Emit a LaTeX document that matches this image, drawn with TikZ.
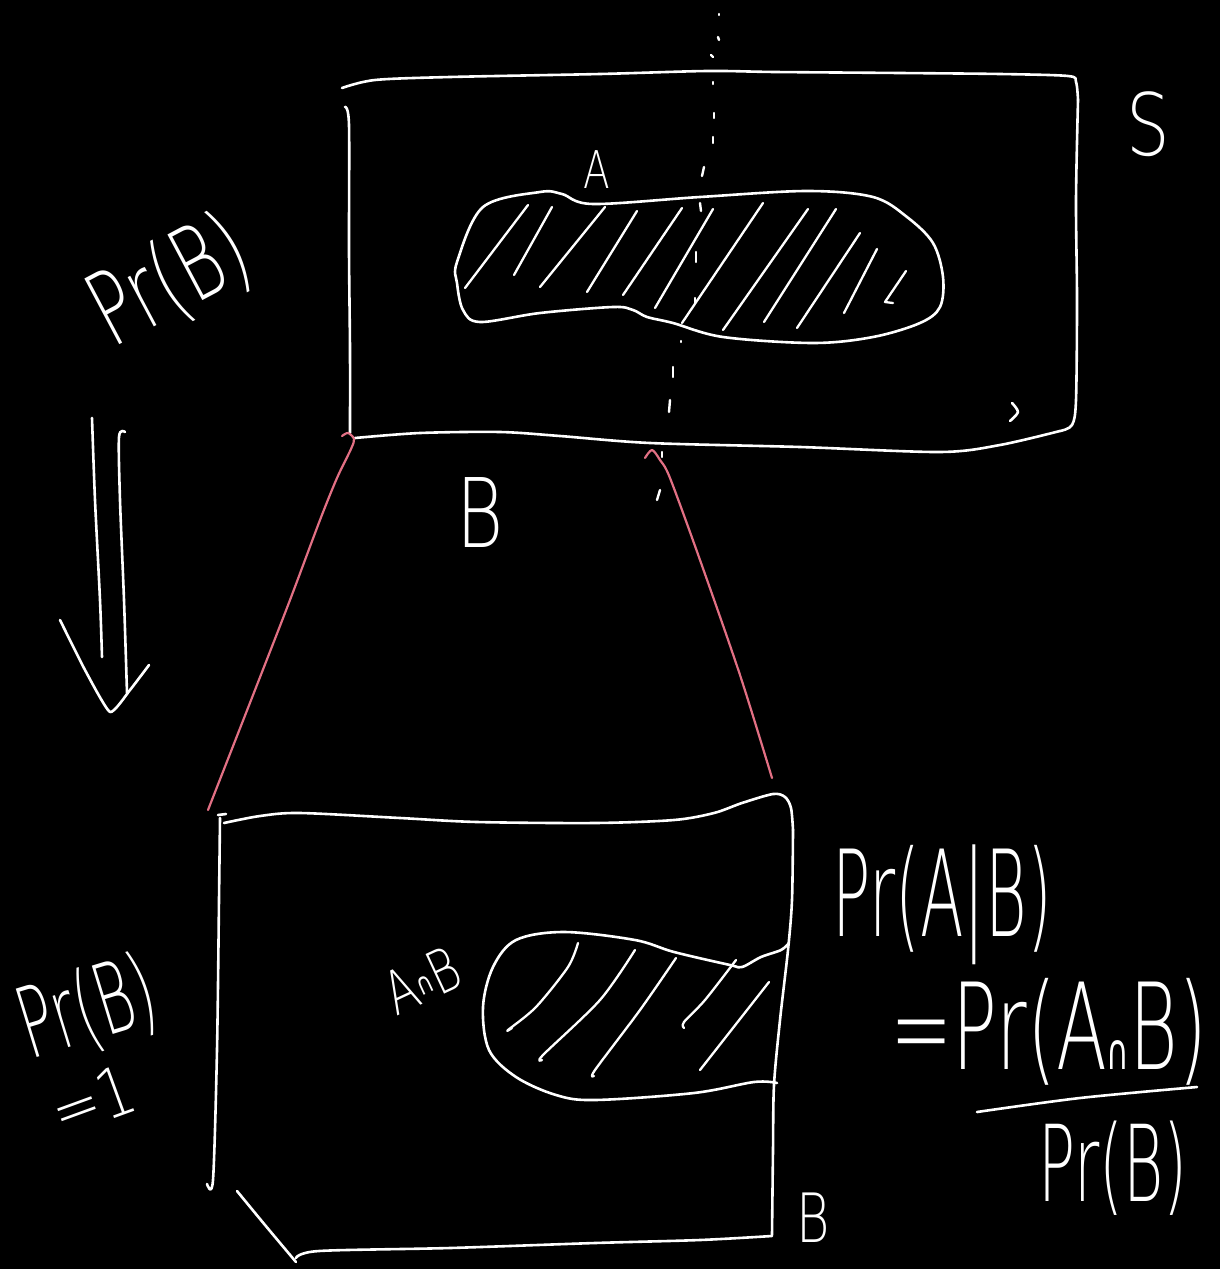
\documentclass[tikz,border=0pt]{standalone}
\usepackage{fontspec}
\usepackage{graphicx}
\IfFontExistsTF{DejaVu Sans ExtraLight}{\newfontfamily\hand{DejaVu Sans ExtraLight}}{\newfontfamily\hand{DejaVu Sans}}
\newfontfamily\handsym{DejaVu Sans}
\newcommand{\hwt}[3]{\scalebox{#1}[1]{\fontsize{#2}{#2}\selectfont #3}}
\definecolor{pinkline}{RGB}{226,112,132}
\begin{document}
\begin{tikzpicture}[x=1pt,y=-1pt,
  ink/.style={draw=white,line width=2.6pt,line cap=round,line join=round},
  pinkink/.style={draw=pinkline,line width=2.2pt,line cap=round,line join=round},
  dashmark/.style={draw=white,line width=2.4pt,line cap=round},
  hw/.style={text=white,inner sep=0pt,font=\hand}]
\fill[black] (0,0) rectangle (1220,1269);
\useasboundingbox (0,0) rectangle (1220,1269);

% ---------- top rectangle S ----------
\draw[ink] plot[smooth,tension=0.5] coordinates {(342,88) (375,80) (450,77) (600,74) (707,71) (775,72) (900,73) (1000,74) (1068,76) (1076,82) (1078,100)};
\draw[ink] plot[smooth,tension=0.5] coordinates {(1078,100) (1076,200) (1077,300) (1076,400) (1072,425) (1060,431)};
\draw[ink] plot[smooth,tension=0.5] coordinates {(1060,431) (1000,445) (940,452) (800,447) (650,443) (560,436) (500,432) (420,433) (355,438)};
\draw[ink] plot[smooth,tension=0.5] coordinates {(345,107) (349,125) (349,250) (350,350) (350,433)};
\draw[ink] plot[smooth,tension=0.5] coordinates {(1012,403) (1018,412) (1010,421)};

% dotted vertical line
\foreach \xa/\ya/\xb/\yb in {719/14/719/15, 718/37/719/40, 711/55/713/57, 713/82/713/84, 714/113/714/118, 713/137/713/143, 704/167/702/176, 700/203/701/211, 696/252/696/262, 695/298/695/303, 681/341/681/342, 673/367/673/377, 670/400/669/412, 662/452/662/457, 660/490/657/500}
  \draw[dashmark] (\xa,\ya) -- (\xb,\yb);

% blob A
\draw[ink] plot[smooth cycle,tension=0.55] coordinates {(457,262) (483,207) (540,192) (562,194) (593,204) (700,197) (807,191) (873,197) (907,217) (933,243) (943,277) (940,307) (920,323) (873,337) (813,343) (723,337) (673,323) (647,317) (633,310) (613,307) (540,313) (480,322) (463,310) (457,283)};
% hatching in A
\foreach \xa/\ya/\xb/\yb in {528/205/465/288, 552/207/514/275, 605/207/540/287, 637/211/587/292, 682/208/623/295, 713/209/655/308, 763/203/682/323, 808/209/723/330, 836/209/764/322, 860/233/797/328, 877/249/844/313}
  \draw[ink,line width=2.3pt] (\xa,\ya) -- (\xb,\yb);
\draw[ink,line width=2.3pt] (906,271) -- (885,302) -- (893,303);

% ---------- pink connectors ----------
\coordinate (lt) at (342,436);
\coordinate (lb) at (208,810);
\coordinate (rt) at (645,458);
\coordinate (rb) at (772,778);
\draw[pinkink] plot[smooth,tension=0.5] coordinates {(lt) (348,433) (354,439) (351,449) (337,478) (320,520) (290,600) (255,690) (lb)};
\draw[pinkink] plot[smooth,tension=0.5] coordinates {(rt) (652,450) (660,460) (670,478) (700,560) (740,675) (rb)};

% ---------- bottom rectangle B ----------
\draw[ink] (218,815) -- (226,814);
\draw[ink] plot[smooth,tension=0.5] coordinates {(220,818) (219,900) (217,1050) (213,1180) (207,1184)};
\draw[ink] plot[smooth,tension=0.5] coordinates {(224,823) (260,816) (300,813) (400,818) (477,822) (595,823) (674,820) (714,813) (742,803) (773,794) (785,797) (791,808) (793,830)};
\draw[ink] plot[smooth,tension=0.5] coordinates {(793,830) (792,900) (788,950) (780,1020) (774,1085) (773,1150) (772,1235)};
\draw[ink] plot[smooth,tension=0.5] coordinates {(772,1236) (700,1240) (595,1243) (450,1248) (319,1251) (296,1258)};
\draw[ink] plot[smooth,tension=0.5] coordinates {(237,1191) (265,1225) (296,1262)};

% blob A cap B
\draw[ink] plot[smooth,tension=0.55] coordinates {(789,943) (781,950) (761,957) (742,967) (730,965) (674,952) (635,940) (564,932) (516,940) (493,967) (483,1007) (489,1050) (516,1077) (556,1095) (595,1100) (694,1093) (754,1082) (777,1083)};
\draw[ink,line width=2.3pt] plot[smooth,tension=0.5] coordinates {(578,943) (568,967) (536,1007) (508,1030) (512,1028)};
\draw[ink,line width=2.3pt] plot[smooth,tension=0.5] coordinates {(635,950) (600,1000) (543,1055) (542,1060)};
\draw[ink,line width=2.3pt] plot[smooth,tension=0.5] coordinates {(676,958) (640,1010) (595,1070) (594,1076)};
\draw[ink,line width=2.3pt] plot[smooth,tension=0.5] coordinates {(736,960) (705,1000) (684,1022) (684,1028)};
\draw[ink,line width=2.3pt] (769,982) -- (700,1070);

% ---------- double arrow ----------
\draw[ink] plot[smooth,tension=0.5] coordinates {(92,418) (95,500) (100,600) (102,657)};
\draw[ink] plot[smooth,tension=0.5] coordinates {(125,432) (119,437) (120,500) (124,600) (127,693)};
\draw[ink] plot[smooth,tension=0.3] coordinates {(60,620) (85,670) (110,712) (130,690) (149,665)};

% fraction bar
\draw[ink] plot[smooth,tension=0.5] coordinates {(977,1112) (1080,1098) (1197,1087)};

% ---------- texts ----------
\node[hw] (S) at (1148,124) {\hwt{0.8}{86}{S}};
\node[hw] (A) at (597,170) {\hwt{0.75}{52}{A}};
\node[hw] (Blab) at (480,512) {\hwt{0.75}{96}{B}};
\node[hw,rotate=28] (prb1) at (170,282) {\hwt{0.66}{102}{Pr(B)}};
\node[hw,rotate=17] (prb2) at (88,1010) {\hwt{0.58}{98}{Pr(B)}};
\node[hw,rotate=20] (eq1) at (93,1100) {\hwt{0.85}{68}{=1}};
\node[hw,rotate=25] (AB) at (422,980) {\hwt{0.75}{60}{A\raisebox{0.12em}{\handsym\fontsize{30}{30}\selectfont ∩}B}};
\node[hw] (B2) at (813,1218) {\hwt{0.75}{68}{B}};
\node[hw] (cond) at (942,905) {\hwt{0.53}{120}{Pr(A|B)}};
\node[hw] (num) at (1049,1032) {\hwt{0.62}{120}{=Pr(A{\handsym\fontsize{50}{50}\selectfont ∩}B)}};
\node[hw] (den) at (1113,1168) {\hwt{0.58}{106}{Pr(B)}};
\end{tikzpicture}
\end{document}
